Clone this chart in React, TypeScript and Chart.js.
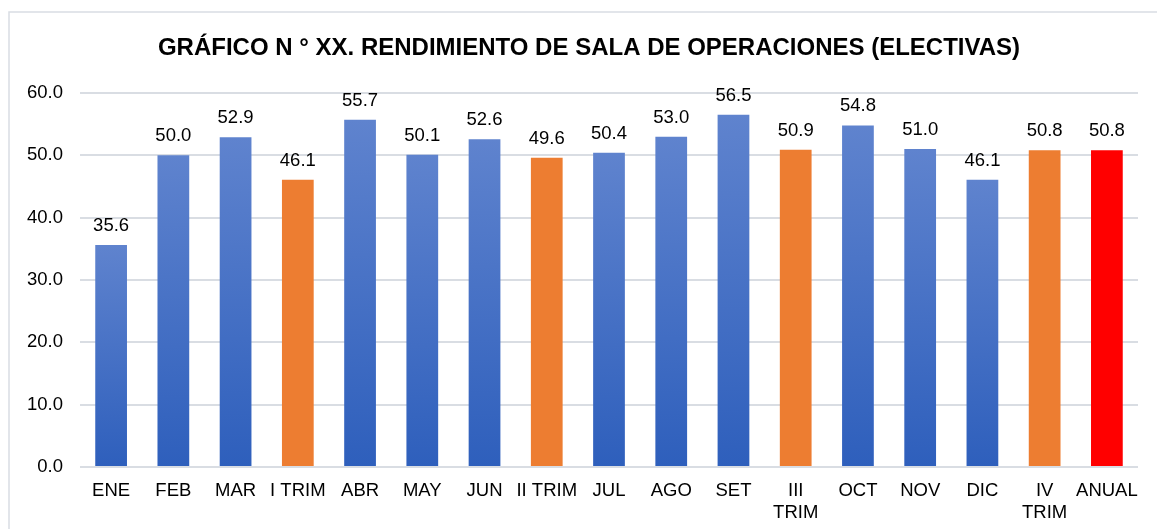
import React, { useEffect, useRef } from "react";
import { Chart, registerables } from "chart.js";

Chart.register(...registerables);

const TITLE = "GRÁFICO N ° XX. RENDIMIENTO DE SALA DE OPERACIONES (ELECTIVAS)";
const categories: (string | string[])[] = [
  "ENE", "FEB", "MAR", "I TRIM", "ABR", "MAY", "JUN", "II TRIM", "JUL", "AGO", "SET",
  ["III", "TRIM"], "OCT", "NOV", "DIC", ["IV", "TRIM"], "ANUAL",
];
const values = [35.6, 50.0, 52.9, 46.1, 55.7, 50.1, 52.6, 49.6, 50.4, 53.0, 56.5, 50.9, 54.8, 51.0, 46.1, 50.8, 50.8];
const kinds = ["m", "m", "m", "t", "m", "m", "m", "t", "m", "m", "m", "t", "m", "m", "m", "t", "a"];
const yTicks = [0, 10, 20, 30, 40, 50, 60];

const FONT = "'Liberation Sans', Arial, sans-serif";

export default function App() {
  const ref = useRef<HTMLCanvasElement | null>(null);
  useEffect(() => {
    const canvas = ref.current!;
    const frame = {
      id: "frame",
      beforeDraw(chart: any) {
        const ctx = chart.ctx;
        ctx.save();
        ctx.strokeStyle = "#d9dde3";
        ctx.lineWidth = 1.5;
        ctx.beginPath();
        ctx.moveTo(9, 600);
        ctx.lineTo(9, 12);
        ctx.lineTo(1200, 12);
        ctx.stroke();
        ctx.font = `bold 24px ${FONT}`;
        ctx.fillStyle = "#000";
        ctx.textAlign = "center";
        ctx.textBaseline = "alphabetic";
        ctx.fillText(TITLE, 589, 55);
        ctx.restore();
      },
    };
    const labelsPlugin = {
      id: "vals",
      afterDatasetsDraw(chart: any) {
        const ctx = chart.ctx;
        const meta = chart.getDatasetMeta(0);
        ctx.save();
        ctx.font = `18.5px ${FONT}`;
        ctx.fillStyle = "#000";
        ctx.textAlign = "center";
        ctx.textBaseline = "alphabetic";
        meta.data.forEach((el: any, i: number) => {
          ctx.fillText(values[i].toFixed(1), el.x, el.y - 14);
        });
        ctx.restore();
      },
    };
    const chart = new Chart(canvas, {
      type: "bar",
      data: {
        labels: categories,
        datasets: [
          {
            data: values,
            barPercentage: 0.51,
            categoryPercentage: 1,
            backgroundColor: (c: any) => {
              const i = c.dataIndex;
              if (kinds[i] === "t") return "#ED7D31";
              if (kinds[i] === "a") return "#FF0000";
              const ch = c.chart;
              if (!ch.chartArea) return "#4472C4";
              const y = ch.scales.y;
              const top = y.getPixelForValue(values[i]);
              const bot = y.getPixelForValue(0);
              const g = ch.ctx.createLinearGradient(0, top, 0, bot);
              g.addColorStop(0, "#5f83ce");
              g.addColorStop(1, "#2e5fbc");
              return g;
            },
          },
        ],
      },
      options: {
        responsive: false,
        animation: false,
        layout: { padding: { left: 0, right: 19, top: 93, bottom: 0 } },
        plugins: {
          legend: { display: false },
          tooltip: { enabled: false },
          title: { display: false },
        },
        scales: {
          x: {
            grid: { display: false },
            border: { display: false },
            ticks: {
              color: "#000",
              font: { family: FONT, size: 18.5 },
              maxRotation: 0,
              autoSkip: false,
              padding: 5,
            },
            afterFit: (s: any) => {
              s.height = 62;
            },
          },
          y: {
            min: 0,
            max: 60,
            afterBuildTicks: (s: any) => {
              s.ticks = yTicks.map((v) => ({ value: v }));
            },
            grid: { color: "#d9dde3", lineWidth: 2, drawTicks: false },
            border: { display: false },
            ticks: {
              color: "#000",
              font: { family: FONT, size: 18.5 },
              padding: 17,
              callback: (v: any) => Number(v).toFixed(1),
            },
            afterFit: (s: any) => {
              s.width = 80;
            },
          },
        },
      },
      plugins: [frame, labelsPlugin],
    } as any);
    return () => chart.destroy();
  }, []);
  return (
    <canvas
      ref={ref}
      width={1157}
      height={529}
      style={{ position: "absolute", left: 0, top: 0, width: 1157, height: 529 }}
    />
  );
}
